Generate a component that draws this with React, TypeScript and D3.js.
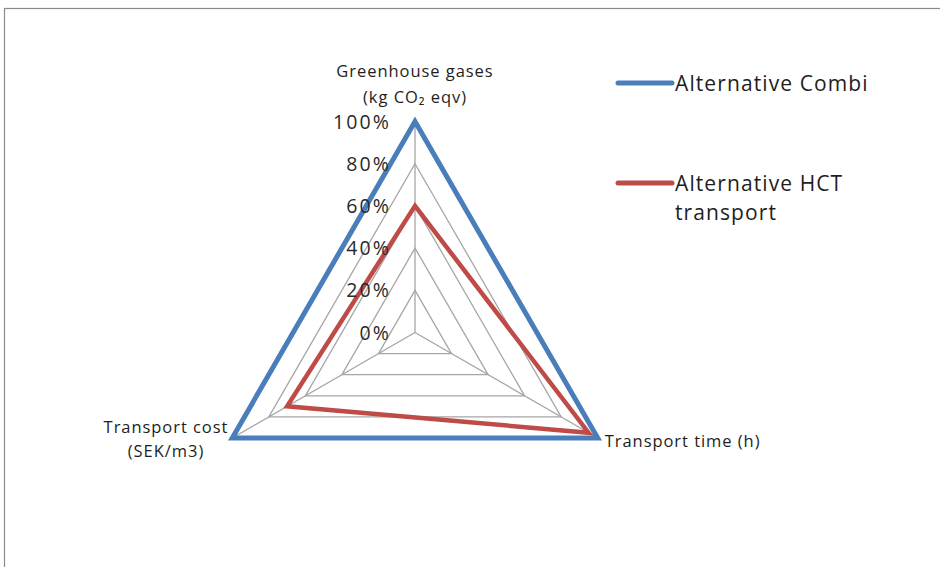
import React from "react";
import * as d3 from "d3";

const axes = [
  ["Greenhouse gases", "(kg CO\u2082 eqv)"],
  ["Transport time (h)"],
  ["Transport cost", "(SEK/m3)"],
];
const seriesNames = ["Alternative Combi", "Alternative HCT transport"];
const combi = [1.0, 1.0, 1.0];
const hct = [0.6, 0.95, 0.7];
const ticks = [0, 0.2, 0.4, 0.6, 0.8, 1.0];
const tickLabels = ["0%", "20%", "40%", "60%", "80%", "100%"];

const W = 940;
const H = 567;
const cx = 415;
const cy = 332.5;
const R = 211;
const BLUE = "#4a7ebb";
const RED = "#be4b48";
const FONT = "'Open Sans', 'Noto Sans', sans-serif";

export default function App() {
  const r = d3.scaleLinear().domain([0, 1]).range([0, R]);
  const angle = (i: number) => (i * 2 * Math.PI) / axes.length;
  const pt = (i: number, v: number): [number, number] => [
    cx + r(v) * Math.sin(angle(i)),
    cy - r(v) * Math.cos(angle(i)),
  ];
  const poly = (vals: number[]) => {
    const line = d3.line<number>()
      .x((v, i) => pt(i, v)[0])
      .y((v, i) => pt(i, v)[1])
      .curve(d3.curveLinearClosed);
    return line(vals) || "";
  };
  const gridRings = ticks.filter((t) => t > 0).map((t) => axes.map(() => t));

  return (
    <svg
      width={W}
      height={H}
      style={{ position: "absolute", left: 0, top: 0, background: "#fff" }}
      fontFamily={FONT}
    >
      <rect x={4.5} y={8.5} width={W + 10} height={H + 10} fill="#fff" stroke="#8a8a8a" strokeWidth={1.2} />
      {/* grid rings */}
      {gridRings.map((ring, k) => (
        <path key={k} d={poly(ring)} fill="none" stroke="#a6a6a6" strokeWidth={1.3} />
      ))}
      {/* spokes */}
      {axes.map((_, i) => {
        const [x, y] = pt(i, 1);
        return <line key={i} x1={cx} y1={cy} x2={x} y2={y} stroke="#a6a6a6" strokeWidth={1.3} />;
      })}
      {/* series */}
      <path d={poly(combi)} fill="none" stroke={BLUE} strokeWidth={5} strokeLinejoin="miter" />
      <path d={poly(hct)} fill="none" stroke={RED} strokeWidth={4.5} strokeLinejoin="miter" />
      {/* tick labels */}
      {ticks.map((t, k) => (
        <text
          key={k}
          x={cx - 24}
          y={cy - r(t)}
          dy="0.36em"
          textAnchor="end"
          fontSize={19.5}
          letterSpacing={2.1}
          fill="#2a2a2a"
        >
          {tickLabels[k]}
        </text>
      ))}
      {/* axis labels */}
      <g fontSize={16.5} letterSpacing={0.95} fill="#1e1e1e">
        <text x={cx} y={77} textAnchor="middle">
          <tspan x={cx}>{axes[0][0]}</tspan>
          <tspan x={cx} dy={26}>{axes[0][1]}</tspan>
        </text>
        <text x={pt(1, 1)[0] + 7} y={pt(1, 1)[1] + 9} textAnchor="start">
          {axes[1][0]}
        </text>
        <text x={166} y={433} textAnchor="middle">
          <tspan x={166}>{axes[2][0]}</tspan>
          <tspan x={166} dy={24}>{axes[2][1]}</tspan>
        </text>
      </g>
      {/* legend */}
      <g fontSize={21} letterSpacing={1.1} fill="#1e1e1e">
        <line x1={618} x2={672} y1={83} y2={83} stroke={BLUE} strokeWidth={5} strokeLinecap="round" />
        <text x={675} y={91}>{seriesNames[0]}</text>
        <line x1={618} x2={672} y1={183} y2={183} stroke={RED} strokeWidth={5} strokeLinecap="round" />
        <text x={675} y={191}>
          <tspan x={675}>Alternative HCT</tspan>
          <tspan x={675} dy={29}>transport</tspan>
        </text>
      </g>
    </svg>
  );
}
